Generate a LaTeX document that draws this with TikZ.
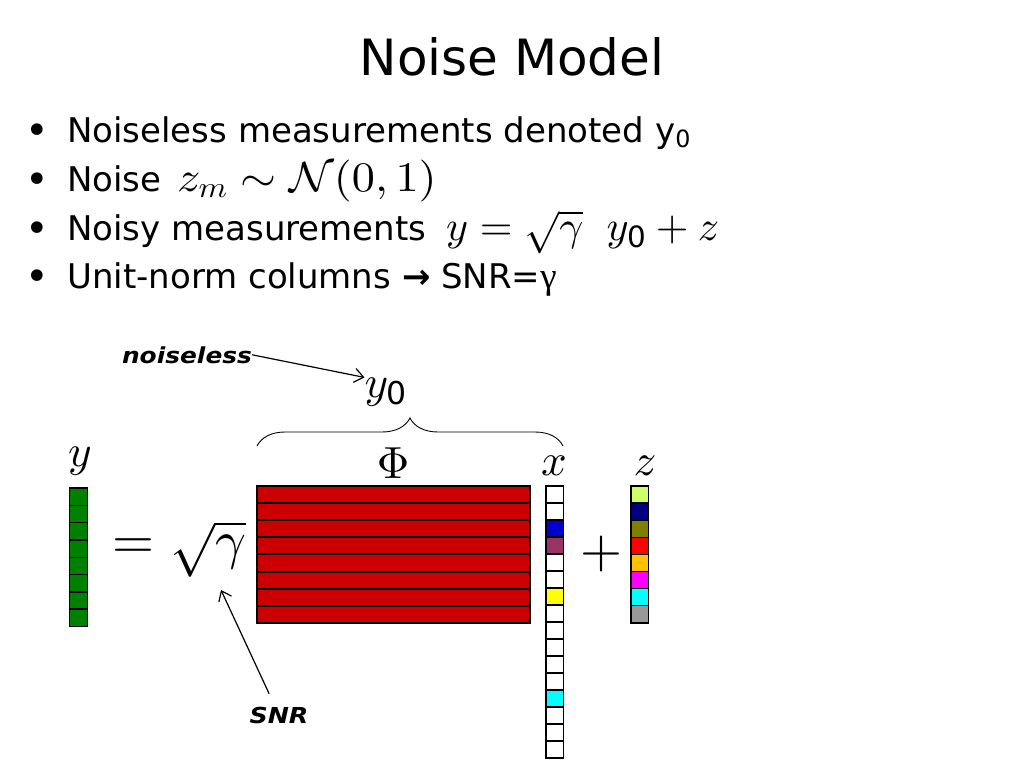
\RequirePackage{fix-cm}
\documentclass[tikz,border=0pt]{standalone}
\usepackage[no-math]{fontspec}
\usepackage{amsmath}
\DeclareFontShape{OML}{cmm}{m}{it}{<-> cmmi10}{}
\DeclareFontShape{OMS}{cmsy}{m}{n}{<-> cmsy10}{}
\DeclareFontShape{OMX}{cmex}{m}{n}{<-> cmex10}{}
\DeclareFontShape{OT1}{cmr}{m}{n}{<-> cmr10}{}
\setmainfont{DejaVu Sans}
\newfontfamily\serifg{Liberation Serif}
\usetikzlibrary{decorations.pathreplacing,arrows.meta}
\definecolor{cgreen}{RGB}{0,128,0}
\definecolor{cred}{RGB}{204,0,0}
\definecolor{xblue}{RGB}{0,0,204}
\definecolor{xpurple}{RGB}{153,51,102}
\definecolor{xyellow}{RGB}{255,255,0}
\definecolor{xcyan}{RGB}{0,255,255}
\definecolor{zlime}{RGB}{204,255,102}
\definecolor{znavy}{RGB}{0,0,128}
\definecolor{zolive}{RGB}{128,128,0}
\definecolor{zred}{RGB}{255,0,0}
\definecolor{zorange}{RGB}{255,192,0}
\definecolor{zmag}{RGB}{255,0,255}
\definecolor{zgray}{RGB}{153,153,153}
\tikzset{
  bul/.style={anchor=base, inner sep=0pt, font=\fontsize{40}{44}\selectfont},
  btxt/.style={anchor=base west, inner sep=0pt, font=\fontsize{34}{40}\selectfont},
  bmath/.style={anchor=base west, inner sep=0pt, font=\fontsize{42}{48}\selectfont},
  flabel/.style={anchor=base, inner sep=0pt, font=\fontsize{45}{54}\selectfont},
  fop/.style={anchor=center, inner sep=0pt, font=\fontsize{54}{64}\selectfont},
  note/.style={anchor=base, inner sep=0pt, font=\fontsize{22}{26}\selectfont\bfseries\itshape},
  cell/.style={draw=black, line width=1.4pt},
  rowcell/.style={draw=black, line width=2pt, fill=cred},
  arr/.style={line width=1.2pt, -{Straight Barb[length=9pt,width=14pt,line width=1.2pt]}},
}
\begin{document}
\begin{tikzpicture}[x=1pt,y=-1pt]
\useasboundingbox (0,0) rectangle (1024,768);
% title
\node[anchor=base, inner sep=0pt, font=\fontsize{50}{60}\selectfont] (title) at (512,75) {Noise Model};
% bullets
\node[bul] (b1) at (37,144) {•};
\node[btxt] (t1) at (67,142) {Noiseless measurements denoted y\textsubscript{0}};
\node[bul] (b2) at (37,193) {•};
\node[btxt] (t2) at (67,191) {Noise};
\node[bmath] (m2) at (177,191) {\scalebox{1.1}[1]{$z_m\sim\mathcal{N}(0,1)$}};
\node[bul] (b3) at (37,242) {•};
\node[btxt] (t3) at (67,240) {Noisy measurements};
\node[bmath] (m3) at (446,240) {$y=\sqrt{\gamma}\;\;y_{\text{0}}+z$};
\node[bul] (b4) at (37,290) {•};
\node[btxt] (t4) at (67,288) {Unit-norm columns {\bfseries →} SNR={\serifg\fontsize{37}{40}\selectfont γ}};
% y column
\foreach \i in {0,...,7}
  \draw[cell, fill=cgreen] (69.5,{488+\i*17.3}) rectangle ++(18,17.3);
\node[flabel] (ylab) at (80,466) {$y$};
% equals and sqrt gamma
\node[fop] (eq) at (133,549) {$=$};
\node[fop] (sg) at (208,549) {$\sqrt{\gamma}$};
% Phi matrix
\foreach \i in {0,...,7}
  \draw[rowcell] (257,{486+\i*17.1}) rectangle ++(273,17.1);
\node[flabel] (phi) at (393,478) {$\Phi$};
% x column
\foreach \c [count=\i from 0] in {white,white,xblue,xpurple,white,white,xyellow,white,white,white,white,white,xcyan,white,white,white}
  \draw[cell, fill=\c] (546,{486+\i*17}) rectangle ++(17.5,17);
\node[flabel] (xlab) at (554,475) {$x$};
% plus
\node[fop] (plus) at (601,554) {$+$};
% z column
\foreach \c [count=\i from 0] in {zlime,znavy,zolive,zred,zorange,zmag,xcyan,zgray}
  \draw[cell, fill=\c] (631,{486+\i*17.1}) rectangle ++(17.5,17.1);
\node[flabel] (zlab) at (645,475) {$z$};
% brace and y0
\draw[line width=0.9pt, decorate, decoration={brace, amplitude=28pt}] (257,446) -- (563,446);
\node[flabel] (y0) at (386,397) {$y_{\text{0}}$};
% annotations
\node[note] (nl) at (187,363) {\scalebox{1.13}[1]{noiseless}};
\draw[arr] (nl.east) -- (y0.north west);
\node[note] (snr) at (279,723) {\scalebox{1.15}[1]{SNR}};
\coordinate (snrtip) at (221,590);
\draw[arr, shorten <=14pt] (snr) -- (snrtip);
\end{tikzpicture}
\end{document}
